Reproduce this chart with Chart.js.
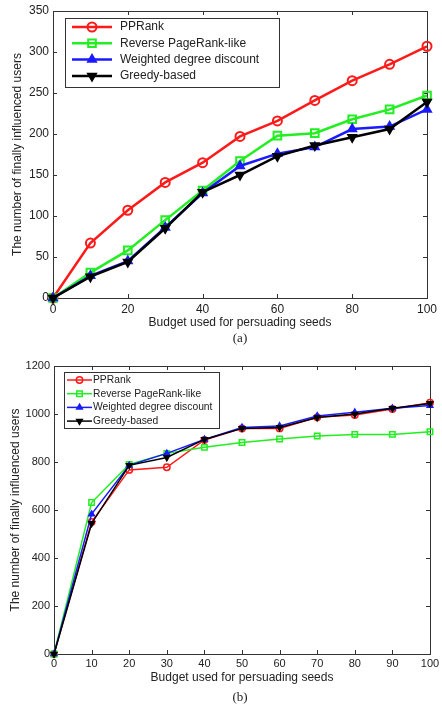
<!DOCTYPE html>
<html>
<head>
<meta charset="utf-8">
<script src="https://cdn.jsdelivr.net/npm/chart.js@4.4.1/dist/chart.umd.min.js"></script>
<style>
body { margin: 0; background: #fff; width: 442px; height: 704px; position: relative; overflow: hidden; }
.box { position: absolute; left: 0; width: 442px; }
.cap { position: absolute; left: 0; width: 480px; text-align: center; font: 13px "Liberation Serif", serif; color: #222; }
</style>
</head>
<body>
<div class="box" style="top:0;height:332px"><canvas id="chartA"></canvas></div>
<div class="cap" style="top:330px">(a)</div>
<div class="box" style="top:350px;height:336px"><canvas id="chartB"></canvas></div>
<div class="cap" style="top:689px">(b)</div>
<script>
// budgets (x axis) shared by both panels
const budget = [0, 10, 20, 30, 40, 50, 60, 70, 80, 90, 100];
const seriesNames = ['PPRank', 'Reverse PageRank-like', 'Weighted degree discount', 'Greedy-based'];

// panel (a)
const ppRankA   = [0, 67, 107, 141, 165, 197, 216, 241, 265, 285, 307];
const reverseA  = [0, 31, 58, 95, 131, 167, 198, 201, 218, 230, 247];
const weightedA = [0, 27, 45, 86, 128, 161, 176, 184, 206, 209, 230];
const greedyA   = [0, 26, 44, 85, 129, 150, 173, 186, 196, 206, 239];
const xTicksA = [0, 20, 40, 60, 80, 100];
const yTicksA = [0, 50, 100, 150, 200, 250, 300, 350];

// panel (b)
const ppRankB   = [0, 550, 767, 778, 892, 940, 940, 986, 996, 1021, 1047];
const reverseB  = [0, 631, 790, 836, 861, 881, 896, 908, 915, 915, 926];
const weightedB = [0, 583, 786, 836, 894, 944, 950, 992, 1007, 1024, 1035];
const greedyB   = [0, 544, 786, 819, 894, 940, 944, 985, 1000, 1024, 1044];
const xTicksB = [0, 10, 20, 30, 40, 50, 60, 70, 80, 90, 100];
const yTicksB = [0, 200, 400, 600, 800, 1000, 1200];

const looks = [
  { color: '#ff1a1a', pointStyle: 'circle',   rotation: 0,   fill: 'transparent', order: 3 },
  { color: '#22ee22', pointStyle: 'rect',     rotation: 0,   fill: 'transparent', order: 2 },
  { color: '#1a1aff', pointStyle: 'triangle', rotation: 0,   fill: '#1a1aff',     order: 1 },
  { color: '#000000', pointStyle: 'triangle', rotation: 180, fill: '#000000',     order: 0 }
];

// box around the plot with inward ticks, matlab style
const framePlugin = {
  id: 'frame',
  beforeDatasetsDraw(chart) {
    const { ctx, chartArea: a, scales: { x, y } } = chart;
    const t = 4;
    ctx.save();
    ctx.strokeStyle = '#333';
    ctx.lineWidth = 1;
    ctx.strokeRect(a.left + 0.5, a.top + 0.5, a.right - a.left, a.bottom - a.top);
    ctx.beginPath();
    x.ticks.forEach(tk => {
      const px = Math.round(x.getPixelForValue(tk.value)) + 0.5;
      ctx.moveTo(px, a.bottom); ctx.lineTo(px, a.bottom - t);
      ctx.moveTo(px, a.top); ctx.lineTo(px, a.top + t);
    });
    y.ticks.forEach(tk => {
      const py = Math.round(y.getPixelForValue(tk.value)) + 0.5;
      ctx.moveTo(a.left, py); ctx.lineTo(a.left + t, py);
      ctx.moveTo(a.right, py); ctx.lineTo(a.right - t, py);
    });
    ctx.stroke();
    ctx.restore();
  }
};

// legend drawn inside the plot, with a box
const boxLegend = {
  id: 'boxLegend',
  afterDatasetsDraw(chart, args, o) {
    const ctx = chart.ctx;
    ctx.save();
    ctx.fillStyle = '#fff';
    ctx.fillRect(o.x, o.y, o.w, o.h);
    ctx.strokeStyle = '#333';
    ctx.lineWidth = 1;
    ctx.strokeRect(o.x + 0.5, o.y + 0.5, o.w, o.h);
    ctx.font = o.font;
    ctx.textBaseline = 'middle';
    chart.data.datasets.forEach((ds, i) => {
      const cy = o.y + o.first + i * o.row;
      ctx.strokeStyle = ds.borderColor;
      ctx.lineWidth = ds.borderWidth;
      ctx.beginPath();
      ctx.moveTo(o.x + o.pad, cy);
      ctx.lineTo(o.x + o.pad + o.len, cy);
      ctx.stroke();
      ctx.fillStyle = ds.pointBackgroundColor;
      ctx.strokeStyle = ds.pointBorderColor;
      ctx.lineWidth = ds.pointBorderWidth;
      Chart.helpers.drawPoint(ctx, {
        pointStyle: ds.pointStyle, radius: ds.pointRadius,
        rotation: ds.pointRotation, borderWidth: ds.pointBorderWidth
      }, o.x + o.pad + o.len / 2, cy);
      ctx.fillStyle = '#222';
      ctx.fillText(ds.label, o.x + o.textX, cy);
    });
    ctx.restore();
  }
};

function makeChart(id, series, xTicks, yTicks, g) {
  const datasets = series.map((vals, i) => ({
    label: seriesNames[i],
    data: budget.map((b, j) => ({ x: b, y: vals[j] })),
    showLine: true,
    borderColor: looks[i].color,
    borderWidth: g.lineW,
    pointStyle: looks[i].pointStyle,
    pointRotation: looks[i].rotation,
    pointRadius: looks[i].pointStyle === 'rect' ? g.ptR * 1.2 : g.ptR,
    pointBorderWidth: g.ptBW,
    pointBorderColor: looks[i].color,
    pointBackgroundColor: looks[i].fill,
    order: looks[i].order,
    clip: false
  }));

  return new Chart(document.getElementById(id), {
    type: 'scatter',
    data: { datasets },
    options: {
      responsive: true,
      maintainAspectRatio: false,
      animation: false,
      layout: { padding: { left: 0, right: g.right, top: g.top, bottom: 0 } },
      plugins: {
        legend: { display: false },
        tooltip: { enabled: false },
        boxLegend: g.legend
      },
      scales: {
        x: {
          type: 'linear',
          min: xTicks[0], max: xTicks[xTicks.length - 1],
          afterBuildTicks: s => { s.ticks = xTicks.map(v => ({ value: v })); },
          afterFit: s => { s.height = g.xH; s.paddingLeft = 0; s.paddingRight = 0; },
          grid: { display: false, drawTicks: false },
          border: { display: false },
          ticks: { padding: g.xTickPad, color: '#222', callback: v => String(v),
                   font: { family: 'Liberation Sans', size: g.tickSize } },
          title: { display: true, text: 'Budget used for persuading seeds', color: '#222',
                   padding: { top: 0, bottom: g.xTitlePad }, font: { family: 'Liberation Sans', size: g.titleSize } }
        },
        y: {
          type: 'linear',
          min: yTicks[0], max: yTicks[yTicks.length - 1],
          afterBuildTicks: s => { s.ticks = yTicks.map(v => ({ value: v })); },
          afterFit: s => { s.width = g.yW; s.paddingTop = 0; s.paddingBottom = 0; },
          grid: { display: false, drawTicks: false },
          border: { display: false },
          ticks: { padding: 4, color: '#222', callback: v => String(v),
                   font: { family: 'Liberation Sans', size: g.tickSize } },
          title: { display: true, text: 'The number of finally influenced users', color: '#222',
                   padding: { top: g.yTitlePad, bottom: 0 }, font: { family: 'Liberation Sans', size: g.titleSize } }
        }
      }
    },
    plugins: [framePlugin, boxLegend]
  });
}

makeChart('chartA', [ppRankA, reverseA, weightedA, greedyA], xTicksA, yTicksA, {
  right: 15, top: 11, xH: 34, yW: 53, xTickPad: 4, xTitlePad: 2, yTitlePad: 10,
  tickSize: 12, titleSize: 12, lineW: 2.5, ptR: 4.5, ptBW: 2,
  legend: { x: 65, y: 18, w: 214, h: 69, first: 9, row: 16.3, pad: 7, len: 40, textX: 55, font: '12px "Liberation Sans"' }
});

makeChart('chartB', [ppRankB, reverseB, weightedB, greedyB], xTicksB, yTicksB, {
  right: 12, top: 16, xH: 32, yW: 54, xTickPad: 3, xTitlePad: 1, yTitlePad: 8,
  tickSize: 11, titleSize: 12, lineW: 1.5, ptR: 3.2, ptBW: 1.5,
  legend: { x: 64, y: 22, w: 155, h: 56, first: 8, row: 13.7, pad: 3, len: 25, textX: 29, font: '10.3px "Liberation Sans"' }
});
</script>
</body>
</html>
